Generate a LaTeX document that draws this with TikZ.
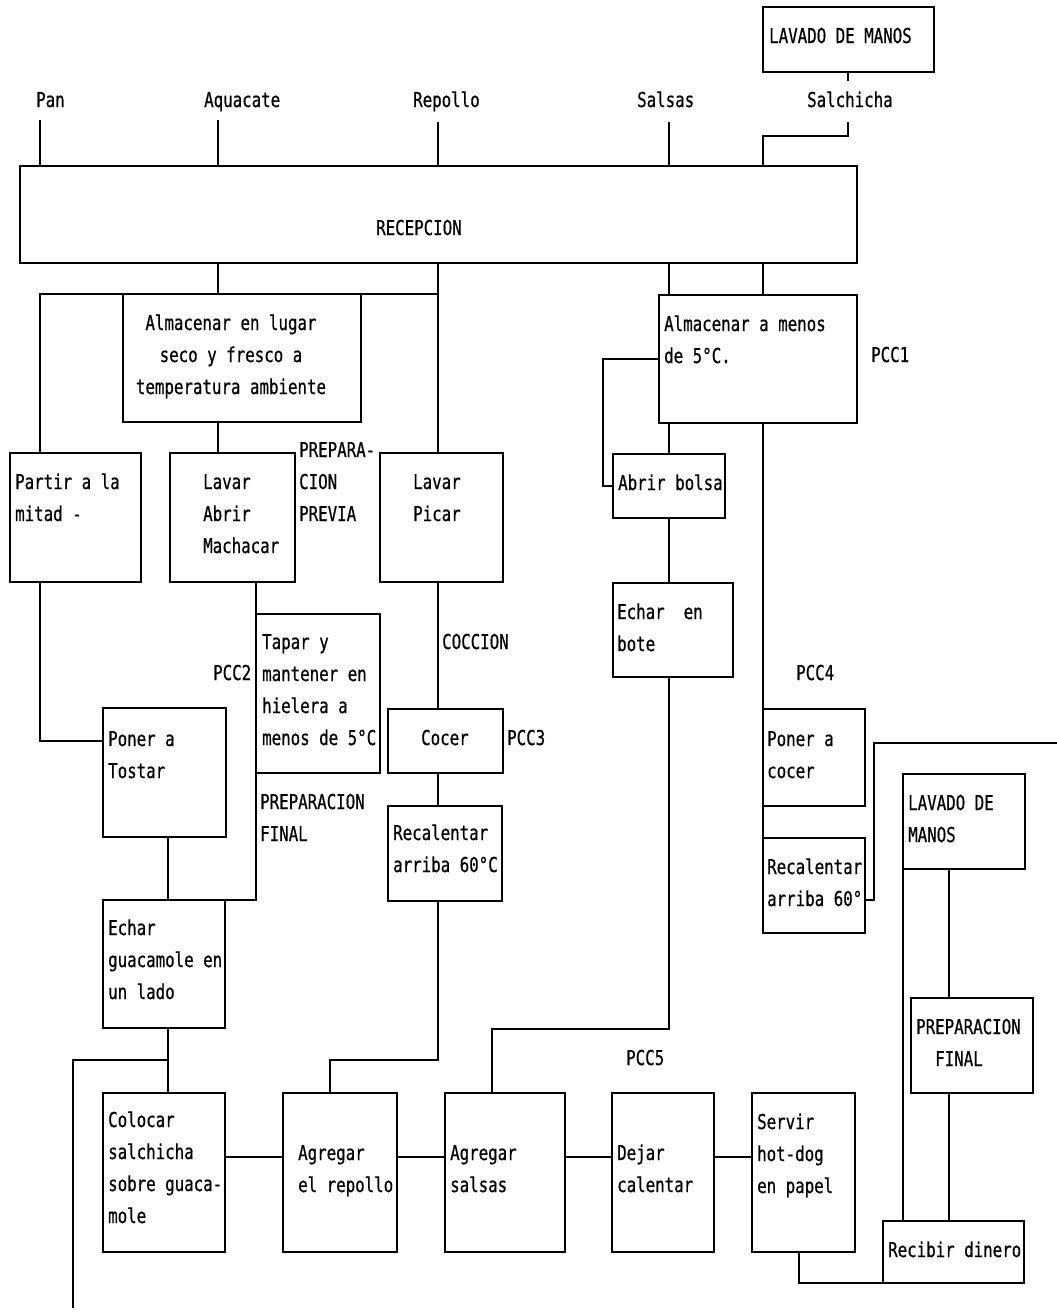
\documentclass[tikz,border=0pt]{standalone}
\usepackage{fontspec}
\newfontfamily\dosfont[FakeStretch=0.77,FakeBold=0.6]{DejaVu Sans Mono}
\newcommand{\mlines}[1]{\begin{tabular}[t]{@{}l@{}}#1\end{tabular}}
\newcommand{\clines}[1]{\begin{tabular}[t]{@{}c@{}}#1\end{tabular}}
\newcommand{\mybox}[5]{\node[box, minimum width={(#4-#2)*1pt}, minimum height={(#5-#3)*1pt}] (#1) at (#2,#3) {};}
\begin{document}
\begin{tikzpicture}[x=1pt,y=-1pt,
  box/.style={draw, line width=1.8pt, anchor=north west, inner sep=0pt, outer sep=0pt},
  txt/.style={font={\dosfont\fontsize{20.5}{32}\selectfont}, inner sep=0pt, anchor=base west},
  ln/.style={line width=1.8pt}]
\fill[white] (0,0) rectangle (1057,1312);
\useasboundingbox (0,0) rectangle (1057,1312);

% boxes
\mybox{lav1}{763}{7}{934}{72}
\mybox{recep}{20}{166}{857}{263}
\mybox{alm1}{123}{294}{361}{422}
\mybox{alm2}{659}{295}{857}{423}
\mybox{partir}{10}{453}{141}{582}
\mybox{lam}{170}{453}{295}{582}
\mybox{lp}{380}{453}{503}{582}
\mybox{abrir}{613}{454}{725}{518}
\mybox{bote}{613}{583}{733}{677}
\mybox{tapar}{256}{614}{380}{773}
\mybox{tostar}{103}{708}{226}{837}
\mybox{cocer}{388}{709}{503}{773}
\mybox{pcocer}{763}{709}{865}{806}
\mybox{recal1}{388}{806}{502}{901}
\mybox{recal2}{763}{838}{865}{933}
\mybox{lav2}{903}{774}{1025}{869}
\mybox{guac}{103}{900}{225}{1028}
\mybox{pfin}{911}{998}{1033}{1093}
\mybox{colocar}{103}{1093}{225}{1252}
\mybox{arep}{283}{1093}{397}{1252}
\mybox{asal}{445}{1093}{565}{1252}
\mybox{dejar}{612}{1093}{714}{1252}
\mybox{servir}{752}{1093}{855}{1252}
\mybox{recibir}{883}{1221}{1024}{1283}

% texts
\node[txt] (tPan) at (36,107) {Pan};
\node[txt] (tAgu) at (204,107) {Aquacate};
\node[txt] (tRep) at (413,107) {Repollo};
\node[txt] (tSal) at (637,107) {Salsas};
\node[txt] (tSch) at (807,107) {Salchicha};
\node[txt] (tLav1) at (769,43) {LAVADO DE MANOS};
\node[txt] (tRecep) at (376,235) {RECEPCION};
\node[txt, anchor=base] (tAlm1) at (231,330) {\clines{Almacenar en lugar\\seco y fresco a\\temperatura ambiente}};
\node[txt] (tAlm2) at (664,331) {\mlines{Almacenar a menos\\de 5°C.}};
\node[txt] (tPcc1) at (871,362) {PCC1};
\node[txt] (tPartir) at (15,489) {\mlines{Partir a la\\mitad -}};
\node[txt] (tLam) at (203,489) {\mlines{Lavar\\Abrir\\Machacar}};
\node[txt] (tPrev) at (299,457) {\mlines{PREPARA-\\CION\\PREVIA}};
\node[txt] (tLp) at (413,489) {\mlines{Lavar\\Picar}};
\node[txt] (tAbrir) at (618,490) {Abrir bolsa};
\node[txt] (tBote) at (617,619) {\mlines{Echar\ \ en\\bote}};
\node[txt] (tPcc2) at (213,680) {PCC2};
\node[txt] (tTapar) at (262,649) {\mlines{Tapar y\\mantener en\\hielera a\\menos de 5°C}};
\node[txt] (tCoc) at (442,649) {COCCION};
\node[txt] (tTostar) at (108,746) {\mlines{Poner a\\Tostar}};
\node[txt] (tCocer) at (421,745) {Cocer};
\node[txt] (tPcc3) at (507,745) {PCC3};
\node[txt] (tPcc4) at (796,680) {PCC4};
\node[txt] (tPcocer) at (767,746) {\mlines{Poner a\\cocer}};
\node[txt] (tPfin1) at (260,809) {\mlines{PREPARACION\\FINAL}};
\node[txt] (tRecal1) at (393,840) {\mlines{Recalentar\\arriba 60°C}};
\node[txt] (tLav2) at (908,810) {\mlines{LAVADO DE\\MANOS}};
\node[txt] (tRecal2) at (767,874) {\mlines{Recalentar\\arriba 60°}};
\node[txt] (tGuac) at (108,935) {\mlines{Echar\\guacamole en\\un lado}};
\node[txt] (tPfin2) at (916,1034) {\mlines{PREPARACION\\\phantom{PR}FINAL}};
\node[txt] (tPcc5) at (626,1065) {PCC5};
\node[txt] (tColocar) at (108,1127) {\mlines{Colocar\\salchicha\\sobre guaca-\\mole}};
\node[txt] (tArep) at (298,1160) {\mlines{Agregar\\el repollo}};
\node[txt] (tAsal) at (450,1160) {\mlines{Agregar\\salsas}};
\node[txt] (tDejar) at (617,1160) {\mlines{Dejar\\calentar}};
\node[txt] (tServir) at (757,1129) {\mlines{Servir\\hot-dog\\en papel}};
\node[txt] (tRecibir) at (888,1257) {Recibir dinero};

% coordinates
\coordinate (pPan) at (40,120);
\coordinate (pAgu) at (218,120);
\coordinate (pRep) at (438,122);
\coordinate (pSal) at (669,122);
\coordinate (pSchA) at (848,81);
\coordinate (pSchB) at (848,122);
\coordinate (cSchT) at (763,136);
\coordinate (cLoop) at (603,0);
\coordinate (cLam) at (256,0);
\coordinate (cTg) at (168,0);
\coordinate (yT) at (0,741);
\coordinate (jRep) at (330,1060);
\coordinate (jSal) at (492,1029);
\coordinate (jL) at (168,1060);
\coordinate (lEnd) at (73,1308);
\coordinate (cRlow) at (874,900);
\coordinate (rEnd) at (1057,743);
\coordinate (yRow) at (0,1157);
\coordinate (cSv) at (799,0);
\coordinate (cL2) at (949,0);

% connectors
\draw[ln] (lav1.south -| pSchA) -- (pSchA);
\draw[ln] (pPan) -- (pPan |- recep.north);
\draw[ln] (pAgu) -- (pAgu |- recep.north);
\draw[ln] (pRep) -- (pRep |- recep.north);
\draw[ln] (pSal) -- (pSal |- recep.north);
\draw[ln] (pSchB) |- (cSchT) -- (cSchT |- recep.north);
\draw[ln] (recep.south -| pAgu) -- (alm1.north -| pAgu);
\draw[ln] (partir.north -| pPan) |- (alm1.north -| pRep);
\draw[ln] (recep.south -| pRep) -- (lp.north -| pRep);
\draw[ln] (alm1.south -| pAgu) -- (lam.north -| pAgu);
\draw[ln] (recep.south -| pSal) -- (alm2.north -| pSal);
\draw[ln] (recep.south -| cSchT) -- (alm2.north -| cSchT);
\draw[ln] (alm2.south -| pSal) -- (abrir.north -| pSal);
\draw[ln] (alm2.west) -| (cLoop |- abrir.west) -- (abrir.west);
\draw[ln] (abrir.south -| pSal) -- (bote.north -| pSal);
\draw[ln] (bote.south -| pSal) |- (jSal) -- (asal.north -| jSal);
\draw[ln] (alm2.south -| cSchT) -- (pcocer.north west);
\draw[ln] (pcocer.south west) -- (recal2.north west);
\draw[ln] (recal2.east |- cRlow) -- (cRlow) |- (rEnd);
\draw[ln] (partir.south -| pPan) |- (tostar.west |- yT);
\draw[ln] (lam.south -| cLam) -- (guac.north east -| cLam) -- (guac.north east);
\draw[ln] (tostar.south -| cTg) -- (guac.north -| cTg);
\draw[ln] (lp.south -| pRep) -- (cocer.north -| pRep);
\draw[ln] (cocer.south -| pRep) -- (recal1.north -| pRep);
\draw[ln] (recal1.south -| pRep) |- (jRep) -- (arep.north -| jRep);
\draw[ln] (guac.south -| cTg) -- (colocar.north -| cTg);
\draw[ln] (jL) -| (lEnd);
\draw[ln] (colocar.east |- yRow) -- (arep.west |- yRow);
\draw[ln] (arep.east |- yRow) -- (asal.west |- yRow);
\draw[ln] (asal.east |- yRow) -- (dejar.west |- yRow);
\draw[ln] (dejar.east |- yRow) -- (servir.west |- yRow);
\draw[ln] (servir.south -| cSv) |- (recibir.south west);
\draw[ln] (lav2.south -| cL2) -- (pfin.north -| cL2);
\draw[ln] (pfin.south -| cL2) -- (recibir.north -| cL2);
\draw[ln] (lav2.south west) -- (recibir.north -| lav2.south west);
\end{tikzpicture}
\end{document}
